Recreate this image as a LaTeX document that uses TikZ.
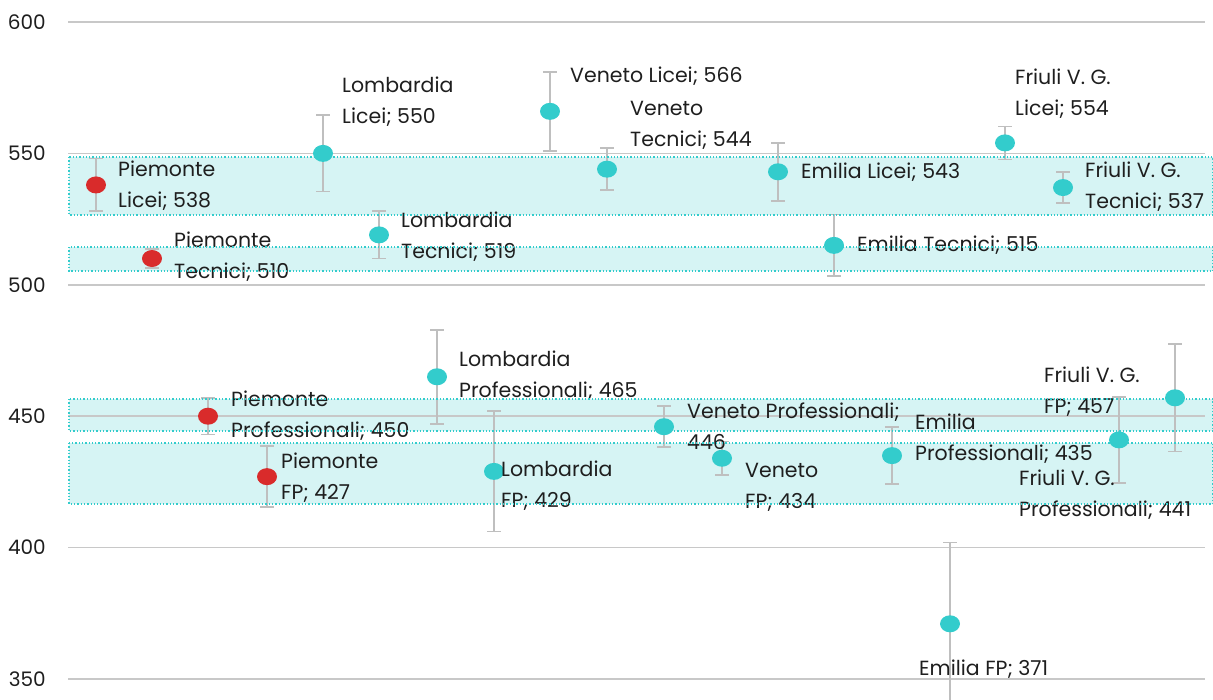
\documentclass[tikz,border=0pt]{standalone}
\usepackage{fontspec}
\setmainfont{Poppins}
\usetikzlibrary{shapes.geometric}

\definecolor{dotcyan}{HTML}{33CCCC}
\definecolor{dotred}{HTML}{D92B2B}
\definecolor{bandfill}{HTML}{D6F4F4}
\definecolor{bandline}{HTML}{33CCCC}
\definecolor{gridgrey}{HTML}{C8C8C8}
\definecolor{bargrey}{HTML}{BFBFBF}
\definecolor{ink}{HTML}{1E1E1E}

% value on the score axis -> vertical position (pt, downward)
\newcommand\vy[1]{22+(600-(#1))*2.628}

\tikzset{
  dot/.style={ellipse, minimum width=20pt, minimum height=17pt, inner sep=0pt, fill=#1, draw=none},
  errbar/.style={draw=bargrey, line width=1.6pt},
  % labels are placed by the baseline of their last line
  lbl/.style={anchor=base west, align=left, inner sep=0pt, text=ink,
              font=\fontsize{20.5}{31}\selectfont},
  axlbl/.style={anchor=east, inner sep=0pt, text=ink, font=\fontsize{20}{24}\selectfont},
  gridln/.style={draw=gridgrey, line width=1.5pt},
  bandarea/.style={fill=bandfill, draw=none},
  bandedge/.style={draw=bandline, dotted, line width=1.3pt},
}

% estimate with error bar: name, x, value, half width of the interval, colour
\newcommand\estimate[5]{%
  \draw[errbar] (#2,{\vy{(#3)-(#4)}}) coordinate (#1-lo) -- (#2,{\vy{(#3)+(#4)}}) coordinate (#1-hi);
  \draw[errbar] ([xshift=-7pt]#1-lo) -- ([xshift=7pt]#1-lo);
  \draw[errbar] ([xshift=-7pt]#1-hi) -- ([xshift=7pt]#1-hi);
  \node[dot=#5] (#1) at (#2,{\vy{#3}}) {};
}

\begin{document}
\begin{tikzpicture}[x=1pt, y=-1pt]
  \useasboundingbox (0,0) rectangle (1213,699);
  \clip (0,0) rectangle (1213,699);

  % highlighted score ranges
  \path[bandarea] (69,157) rectangle (1213,215);
  \path[bandarea] (69,247) rectangle (1213,271);
  \path[bandarea] (69,399) rectangle (1213,431);
  \path[bandarea] (69,443) rectangle (1213,504);

  % horizontal grid and axis labels
  \foreach \v/\nm in {600/g600, 550/g550, 500/g500, 450/g450, 400/g400, 350/g350} {
    \coordinate (\nm-l) at (68,{\vy{\v}});
    \coordinate (\nm-r) at (1205,{\vy{\v}});
    \draw[gridln] (\nm-l) -- (\nm-r);
    \node[axlbl] (\nm-t) at (46,{\vy{\v}}) {\v};
  }

  % Licei and Tecnici
  \estimate{pl}{96}{538}{10}{dotred}
  \estimate{pt}{152}{510}{3.6}{dotred}
  \estimate{ll}{323}{550}{14.5}{dotcyan}
  \estimate{lt}{379}{519}{9}{dotcyan}
  \estimate{vl}{550}{566}{15}{dotcyan}
  \estimate{vt}{607}{544}{8}{dotcyan}
  \estimate{el}{778}{543}{11}{dotcyan}
  \estimate{et}{834}{515}{11.7}{dotcyan}
  \estimate{fl}{1005}{554}{6.3}{dotcyan}
  \estimate{ft}{1063}{537}{5.9}{dotcyan}

  % Professionali and FP
  \estimate{pp}{208}{450}{6.9}{dotred}
  \estimate{pf}{267}{427}{11.6}{dotred}
  \estimate{lp}{437}{465}{17.9}{dotcyan}
  \estimate{lf}{494}{429}{22.9}{dotcyan}
  \estimate{vp}{664}{446}{7.8}{dotcyan}
  \estimate{vf}{722}{434}{6.3}{dotcyan}
  \estimate{ep}{892}{435}{10.8}{dotcyan}
  \estimate{ef}{950}{371}{31}{dotcyan}
  \estimate{fp}{1119}{441}{16.4}{dotcyan}
  \estimate{ff}{1175}{457}{20.4}{dotcyan}

  % data labels
  \node[lbl] (pl-t) at (118,207) {Piemonte\\Licei; 538};
  \node[lbl] (pt-t) at (174,278) {Piemonte\\Tecnici; 510};
  \node[lbl] (ll-t) at (342,123) {Lombardia\\Licei; 550};
  \node[lbl] (lt-t) at (401,258) {Lombardia\\Tecnici; 519};
  \node[lbl] (vl-t) at (570,82) {Veneto Licei; 566};
  \node[lbl] (vt-t) at (630,146) {Veneto\\Tecnici; 544};
  \node[lbl] (el-t) at (801,178) {Emilia Licei; 543};
  \node[lbl] (et-t) at (857,251) {Emilia Tecnici; 515};
  \node[lbl] (fl-t) at (1015,115) {Friuli V. G.\\Licei; 554};
  \node[lbl] (ft-t) at (1085,208) {Friuli V. G.\\Tecnici; 537};

  \node[lbl] (pp-t) at (231,437) {Piemonte\\Professionali; 450};
  \node[lbl] (pf-t) at (281,499) {Piemonte\\FP; 427};
  \node[lbl] (lp-t) at (459,397) {Lombardia\\Professionali; 465};
  \node[lbl] (lf-t) at (501,507) {Lombardia\\FP; 429};
  \node[lbl] (vp-t) at (687,449) {Veneto Professionali;\\446};
  \node[lbl] (vf-t) at (745,508) {Veneto\\FP; 434};
  \node[lbl] (ep-t) at (915,460) {Emilia\\Professionali; 435};
  \node[lbl] (ef-t) at (919,675) {Emilia FP; 371};
  \node[lbl] (fp-t) at (1019,516) {Friuli V. G.\\Professionali; 441};
  \node[lbl] (ff-t) at (1044,413) {Friuli V. G.\\FP; 457};

  % dotted outlines of the score ranges
  \draw[bandedge] (69,157) rectangle (1213,215);
  \draw[bandedge] (69,247) rectangle (1213,271);
  \draw[bandedge] (69,399) rectangle (1213,431);
  \draw[bandedge] (69,443) rectangle (1213,504);
\end{tikzpicture}
\end{document}
